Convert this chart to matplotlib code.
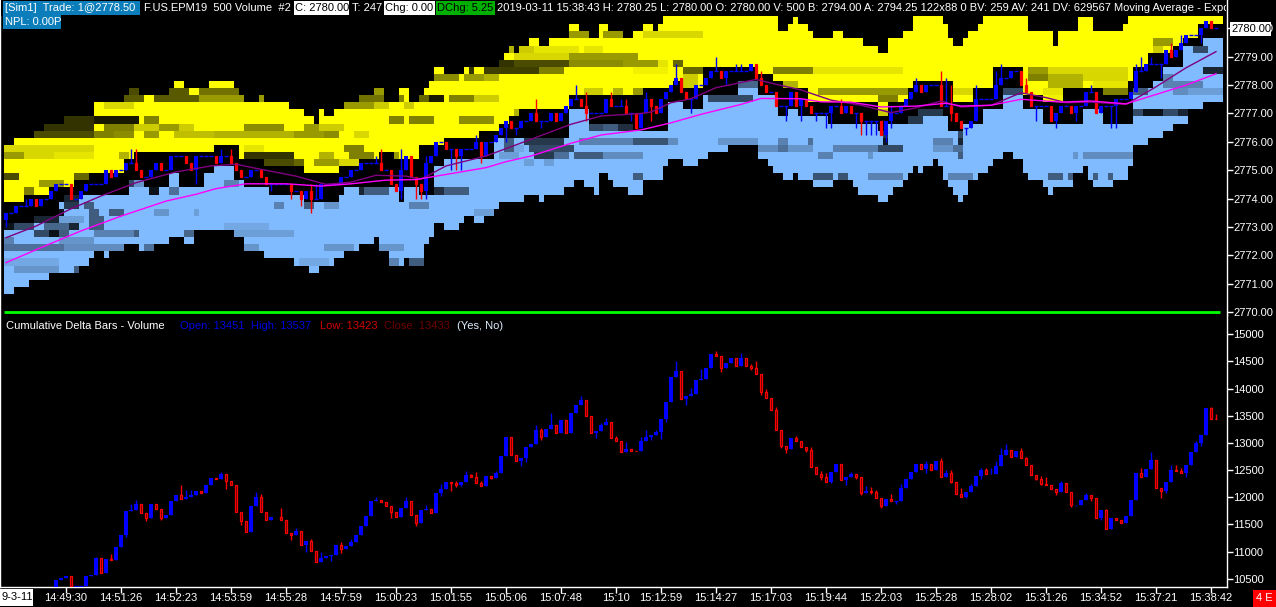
import matplotlib
matplotlib.use("Agg")
import matplotlib.pyplot as plt
import numpy as np
from matplotlib.patches import Rectangle
from matplotlib.transforms import IdentityTransform, Bbox

W, H = 1276, 607
FS = 8.0
BAR_PX, BAR0_PX = 5.0, 66.0
plt.rcParams['font.family'] = ['Liberation Sans', 'DejaVu Sans']

# ---------- time axis ----------
time_labels = ["14:49:30","14:51:26","14:52:23","14:53:59","14:55:28","14:57:59","15:00:23","15:01:55",
               "15:05:06","15:07:48","15:10","15:12:59","15:14:27","15:17:03","15:19:44","15:22:03",
               "15:25:28","15:28:02","15:31:26","15:34:52","15:37:21","15:38:42"]
time_ticks = [0,11,22,33,44,55,66,77,88,99,110,119,130,141,152,163,174,185,196,207,218,229]
price_ticks = [2770,2771,2772,2773,2774,2775,2776,2777,2778,2779,2780]
delta_ticks = [10500,11000,11500,12000,12500,13000,13500,14000,14500,15000]

# ---------- price candles (closes, last bar = 230) ----------
px_close = [2773.5,2773.5,2773.75,2773.75,2773.75,2774,2773.75,2774,2774,2774.25,2774.5,2774.5,2774.5,2774,2774,
 2774.25,2774.5,2774.5,2774.5,2774.5,2775,2774.75,2775,2775,2775.25,2775.25,2775,2774.75,2774.75,2775,2775.25,2775,2775,
 2775.5,2775.5,2775.5,2775.25,2775,2775.5,2775.5,2775.5,2775.5,2775.25,2775.5,2775.5,2775.25,2775,2774.75,2774.75,2775,2775,
 2774.75,2774.5,2774.5,2774.5,2774.5,2774.5,2774.25,2774.25,2774,2774.25,2774,2774,2774.5,2774.5,2774.5,2774.5,2774.75,2774.75,
 2775,2775,2775.25,2775.25,2775.25,2775.25,2775,2775,2774.5,2774.25,2775,2775.5,2774.75,2774.5,2774.25,2775.25,2775.5,2776,2776,
 2775.75,2775.75,2775.5,2775.75,2775.75,2775.75,2776,2775.5,2776,2776,2776.25,2776.5,2776.75,2776.5,2776.5,2776.75,2776.75,2777,
 2776.75,2776.75,2776.75,2777,2776.75,2777,2777.25,2777.5,2777.5,2777.25,2777,2777,2777,2777,2777.5,2777.25,2777.25,2777.25,2777,2777,2776.5,
 2777,2777.5,2777.25,2777,2777.5,2777.75,2778,2778.25,2777.75,2777.5,2777.5,2778,2778,2778.25,2778.5,2778.5,2778.25,2778.5,2778.5,2778.5,
 2778.5,2778.5,2778.75,2778.25,2778,2777.75,2777.75,2777.25,2777.25,2777.25,2777.75,2777.25,2777.5,2777.25,2777,2777,2777,2777,2777.25,2777.25,
 2777,2777.25,2777,2777,2776.75,2776.75,2776.75,2776.75,2776.25,2776.75,2777,2777,2777.25,2777.5,2777.75,2778,2777.75,2778,2778,2778,2777.25,
 2777.25,2777,2776.75,2776.5,2776.5,2776.75,2777.5,2777.5,2777.5,2777.5,2778,2778.25,2778.25,2778.5,2778.5,2778,2777.75,2777.25,2777.25,2777.25,
 2777.25,2776.75,2777,2777.25,2777.25,2777,2777.25,2777.25,2777.75,2777.75,2777,2777.25,2777.25,2777.25,2777.5,2777.5,2777.5,2777.75,2778.5,2778.5,
 2778.75,2778.75,2778.75,2778.75,2779.25,2779,2779.25,2779.5,2779.75,2779.75,2779.75,2780,2780.25,2780,2780]
px_high = {-10:2773.75,-8:2774,13:2775.75,14:2775.75,31:2775.75,33:2775.75,49:2774.5,50:2774.5,62:2775.5,64:2775.75,68:2775.75,
 73:2775.5,83:2776.25,95:2777.5,103:2778,105:2777.75,110:2777.75,112:2777.5,113:2777.5,117:2777.75,123:2778.75,131:2779,135:2778.75,
 136:2778.75,140:2778.5,156:2777.5,166:2777.25,171:2778.25,176:2778.5,177:2778.25,179:2778,184:2778,188:2778.5,189:2778.75,194:2778.25,
 207:2778,216:2778.75,217:2779,219:2779,223:2779.5,225:2779.75}
px_low = {-12:2773,26:2774.5,41:2774.25,45:2774,47:2773.75,49:2773.5,68:2774,71:2774,72:2774,73:2774,78:2775,79:2775,80:2775,84:2775.25,
 89:2776,91:2776.25,96:2776.5,105:2776.75,114:2776.75,118:2776.75,126:2777,133:2778,145:2776.75,148:2776.75,151:2776.75,153:2776.5,154:2776.5,
 159:2776.5,160:2776.25,161:2776.25,162:2776.25,163:2776.25,165:2776,166:2776.5,179:2776.75,182:2776.25,196:2776.75,200:2776.5,204:2776.75,
 211:2776.5,212:2776.5,221:2778.25,229:2779.5}

# ---------- moving averages ----------
slow_bars = [-12,-5,3,11,20,26,30,36,44,51,57,65,71,77,85,89,94,102,108,116,122,128,136,140,148,152,158,164,171,177,181,187,193,201,207,214,220,226,232]
slow_vals = [2771.74,2772.27,2772.86,2773.38,2773.91,2774.15,2774.35,2774.52,2774.52,2774.44,2774.52,2774.65,2774.67,2774.85,2775.09,2775.30,2775.50,2775.95,2776.24,2776.42,
 2776.67,2776.97,2777.32,2777.53,2777.52,2777.41,2777.40,2777.23,2777.26,2777.36,2777.26,2777.29,2777.50,2777.40,2777.44,2777.34,2777.67,2778.00,2778.40]
fast_bars = [-12,-6,1,7,14,22,29,34,39,46,52,57,63,69,72,77,85,94,102,108,116,118,122,126,131,139,143,148,154,160,166,171,176,181,187,193,198,202,207,214,220,226,232]
fast_vals = [2772.62,2773.03,2773.64,2774.09,2774.56,2774.94,2775.15,2775.21,2775.03,2774.79,2774.50,2774.58,2774.82,2774.79,2774.68,2775.15,2775.50,2776.09,2776.62,2776.91,2777.00,
 2777.05,2777.38,2777.52,2777.91,2778.20,2778.03,2777.83,2777.47,2777.29,2777.03,2777.20,2777.44,2777.23,2777.29,2777.73,2777.56,2777.38,2777.40,2777.32,2777.94,2778.61,2779.18]

# ---------- order-book heatmap envelopes: (first column, price) runs ----------
yt_cols = [-12,-10,-6,-4,0,6,12,13,15,21,22,24,29,34,35,36,39,40,45,48,50,51,52,54,56,59,62,65,68,70,72,73,74,75,77,81,88,89,90,91,92,94,96,98,102,104,106,108,110,113,115,117,119,120,121,144,146,147,148,150,151,155,157,161,164,166,169,171,177,179,180,182,183,185,186,195,200,201,205,208,214,215]
yt_vals = [2775.75,2776,2776.25,2776.5,2776.75,2777.25,2777.5,2777.75,2777.5,2777.75,2778,2777.75,2778,2777.75,2777.5,2777.25,2777.5,2777.25,2777,2776.75,2776.5,2777,2776.75,2777,2777.25,2777.5,2777.75,2777.25,2777.75,2777.25,2777.5,2777.75,2778,2778.5,2778.25,2778.5,2778.75,2779,2779.25,2779,2779.25,2779.5,2779.25,2779.5,2780,2779.75,2779.5,2780,2779.75,2779.5,2779.75,2780,2779.75,2780,2780.5,2779.75,2780,2780.25,2780,2779.75,2779.5,2779.75,2779.5,2779.25,2779,2779.5,2779.75,2780.5,2780,2779.5,2779.25,2779.5,2779.75,2780,2780.5,2779.75,2779.25,2779.75,2780.25,2779.75,2780,2780.5]
yb_cols = [-12,-8,-3,2,5,12,14,30,35,40,48,55,59,64,67,72,77,84,88,90,92,102,117,123,125,129,140,143,145,150,164,166,170,171,180,184,188,194,198,202,210,215,216,219,224,226,229]
yb_vals = [2774,2774.25,2774.5,2774.75,2775,2775.5,2775.75,2776,2775.5,2775.25,2775,2775.25,2775.5,2775.75,2775.5,2776,2776.25,2776.5,2776.75,2777,2777.25,2777.75,2778,2778.25,2778,2778.75,2778.5,2778.25,2778,2777.5,2777,2777.5,2778,2778.25,2777.5,2778,2778.75,2777.75,2777.5,2778,2777.75,2778.25,2778.75,2779.25,2779.5,2779.75,2780.25]
bt_cols = [-12,-6,-1,0,13,16,21,23,28,30,34,36,41,48,55,56,68,69,72,75,77,87,102,106,115,122,125,129,136,140,144,146,148,154,164,166,170,172,177,179,182,186,190,194,198,206,210,216,220,222,226,230]
bt_vals = [2773,2773.25,2773.75,2774,2774.5,2774.25,2774.75,2774.25,2774.75,2775,2774.5,2774.25,2774,2773.75,2774,2774.25,2773.75,2774.25,2774,2775,2775.25,2776,2777,2776.5,2776.25,2777.25,2777,2777.5,2778,2777.5,2776.75,2777,2776.75,2776.5,2776.25,2776.5,2776.75,2777,2776.75,2776.25,2776.5,2777,2777.75,2777,2776.5,2777,2776.5,2777.75,2778,2778.5,2779.25,2779.5]
bb_cols = [-12,-10,-7,-3,3,5,6,8,9,12,15,18,21,24,26,34,36,40,46,49,51,54,56,59,62,64,66,69,70,73,74,75,77,80,81,83,85,87,88,93,96,97,101,103,105,107,108,110,111,114,117,121,122,125,128,130,134,140,142,143,145,147,148,151,155,159,160,164,166,167,169,170,171,172,173,175,176,177,179,180,181,182,183,185,187,188,190,192,194,195,198,199,200,204,206,207,208,212,215,216,219,222,224,227,230]
bb_vals = [2770.75,2771,2771.25,2771.5,2771.75,2772,2772.25,2772,2772.25,2772.5,2772.25,2772.5,2772.75,2772.5,2773,2772.75,2772.25,2772,2771.75,2771.5,2771.75,2772,2772.25,2772.5,2772.75,2772.25,2771.75,2772,2771.75,2772.5,2772.75,2773.25,2773,2773.25,2773.5,2773.25,2773.5,2773.75,2774,2774.25,2774,2774.25,2774.5,2774.75,2774.5,2774.25,2775,2774.75,2774.5,2774.25,2774.75,2775.25,2775.5,2775.25,2775.5,2775.75,2776,2775.5,2775.25,2775,2774.75,2775,2774.75,2774.5,2774.75,2774.5,2774.25,2774,2774.25,2774.5,2774.75,2775,2775.25,2775,2775.25,2775.5,2775.25,2774.75,2774.5,2774.25,2774,2774.25,2774.75,2775,2775.25,2775.5,2775.75,2775.5,2775,2774.75,2774.5,2774.25,2774.5,2775,2775.25,2774.75,2774.5,2774.75,2775.25,2776,2776.25,2776.5,2776.75,2777.25,2777.5]

# dim cells: price -> (first col, end col, brightness)
yellow_dim = {
 2780:[], 2779.75:[(102,107,.6),(109,113,.6),(117,129,.85)], 2779.5:[(220,224,.6)],
 2779.25:[(90,91,.7),(92,95,.8),(95,104,.9),(105,109,.9),(220,222,.8)],
 2779:[(91,102,.85),(102,116,.6)],
 2778.75:[(88,91,.2),(91,102,.3),(102,113,.55),(113,120,.6),(120,122,.9),(123,125,.4)],
 2778.5:[(82,83,.2),(85,96,.25),(96,101,.5),(115,122,.95),(125,130,.4),(143,151,.5),(151,169,.9),(190,193,.3),(195,199,.6),(199,215,.85)],
 2778.25:[(75,80,.55),(81,85,.6),(85,88,.7),(125,128,.8),(195,199,.5),(199,206,.7),(206,215,.85)],
 2778:[(125,128,.8),(145,148,.7),(199,206,.7),(208,215,.9)],
 2777.75:[(13,15,.3),(21,25,.35),(27,35,.45),(62,65,.6),(105,109,.8),(111,113,.7),(115,117,.6),(152,171,.6),(180,184,.85),(198,202,.9),(210,215,.5)],
 2777.5:[(12,16,.35),(18,27,.35),(27,36,.6),(39,40,.6),(59,65,.45),(68,69,.5),(72,74,.4),(74,77,.1),(78,83,.5),(83,88,.8),(164,168,.5),(199,202,.95)],
 2777.25:[(8,14,.85),(56,62,.6),(62,66,.8),(69,71,.8)],
 2777:[(91,92,.7),(164,166,.8)],
 2776.75:[(0,6,.2),(6,15,.1),(16,19,.5),(66,69,.5),(70,75,.5),(80,87,.55)],
 2776.5:[(-4,6,.2),(8,14,.5),(14,19,.8),(19,23,.6),(23,26,.8),(36,44,.55),(48,51,.6),(51,56,.8)],
 2776.25:[(-6,6,.3),(6,10,.5),(10,14,.55),(16,19,.6),(22,30,.75),(30,46,.7),(46,52,.6),(52,55,.55),(58,61,.85)],
 2775.75:[(-12,6,.85),(36,40,.9),(56,60,.5)],
 2775.5:[(-12,-8,.6),(-8,-2,.85),(-2,6,.9),(11,13,.7),(15,21,.5),(36,46,.2),(51,54,.7),(57,62,.5),(65,68,.6)],
 2775.25:[(40,46,.3),(46,48,.4),(50,55,.6),(55,59,.85)],
 2774.75:[(-12,-9,.3),(2,5,.4)], 2774.5:[(-5,0,.6)], 2774.25:[(-8,-6,.5)]}
blue_dim = {
 2779.25:[(228,231,.4)], 2778.5:[(230,234,.2)], 2778.25:[(219,224,.7)],
 2778:[(136,140,.55),(216,218,.5),(222,230,.7)],
 2777.75:[(123,125,.5),(130,135,.3),(189,194,.4),(216,219,.5),(224,227,.75),(227,234,.85)],
 2777.5:[(130,139,.4)],
 2777:[(170,177,.3),(216,218,.4),(218,222,.1),(222,225,.4),(225,227,.2)],
 2776.75:[(170,173,.3)], 2776.5:[(106,109,.4),(109,112,.5),(112,116,.25),(165,166,.1)],
 2776.25:[(165,166,.3),(181,182,.4)],
 2776:[(89,91,.5),(93,101,.3),(104,116,.7),(115,122,.45),(122,124,.75),(132,140,.8),(144,146,.7),(150,151,.6),(165,166,.1),(175,180,.7),(181,182,.2)],
 2775.75:[(89,91,.5),(91,93,.9),(94,103,.4),(140,144,.75),(144,146,.6),(146,151,.8),(155,164,.7),(164,169,.4),(175,180,.8),(180,182,.6)],
 2775.5:[(88,92,.85),(95,99,.3),(99,102,.6),(103,109,.5),(109,117,.75),(152,155,.7),(162,163,.8),(181,182,.5),(204,205,.8),(206,216,.75)],
 2775.25:[(93,95,.85),(97,99,.85)],
 2774.75:[(115,117,.5),(151,155,.45),(156,158,.45),(162,169,.7),(179,184,.7),(199,202,.5),(203,205,.5),(208,209,.5),(211,212,.5)],
 2774.5:[(12,14,.4),(14,16,.8),(18,21,.25),(23,26,.1),(32,35,.7)],
 2774.25:[(17,19,.1),(21,23,.6),(59,60,.2),(60,66,.5),(74,77,.25),(77,82,.5)],
 2774:[(0,3,.2),(68,69,.4)],
 2773.75:[(0,3,.3),(4,6,.5),(42,44,.7),(48,50,.5),(52,55,.8),(70,74,.7)],
 2773.5:[(-4,0,.1),(5,7,.5),(9,12,.5),(18,21,.8),(26,27,.85),(83,87,.85)],
 2773.25:[(-6,-1,.2),(-1,4,.85),(5,8,.5)],
 2773:[(-12,-10,.1),(-10,-6,.4),(-4,1,.55),(1,3,.2),(5,8,.5),(32,41,.9)],
 2772.75:[(-6,-3,.4),(-3,-1,.1),(-1,1,.5),(6,14,.7),(14,15,.5),(24,29,.55),(34,46,.85)],
 2772.5:[(-12,-10,.7),(-1,6,.8)],
 2772.25:[(-12,0,.6),(0,12,.75),(16,18,.6),(36,39,.8),(52,58,.8),(64,69,.8)],
 2771.75:[(-12,-1,.9),(47,53,.9),(66,68,.7),(70,73,.5)],
 2771.5:[(-10,-1,.8),(2,4,.5)]}

# ---------- cumulative delta (closes, last bar = 230) ----------
cd_close = [10475,10518,10555,10371,10371,10371,10555,10567,10874,10598,10856,10843,11077,11304,11746,11764,11875,11703,11623,11875,11777,11623,11672,11930,
 12041,11961,12010,12041,12120,12084,12225,12360,12335,12427,12305,12225,11734,11568,11365,11838,12010,11734,11580,11636,11642,11580,11347,11304,11384,
 11120,11194,11015,10813,10874,10923,10929,11114,11040,11101,11181,11298,11476,11654,11924,11949,11906,11844,11728,11636,11795,11930,11672,11531,11764,
 11777,11715,12071,12151,12280,12268,12225,12274,12409,12378,12268,12213,12384,12360,12452,12759,13103,12783,12673,12728,12919,12980,13238,13115,13250,
 13324,13176,13422,13189,13545,13698,13790,13502,13189,13225,13330,13379,13097,13041,12839,12882,12857,12851,
 13029,13115,13146,13195,13434,13760,14208,14324,13809,13858,13901,14159,14177,14374,14637,14607,14380,14466,14564,14410,14564,14423,14380,14275,13931,
 13833,13612,13244,12949,12888,13090,13029,12925,12869,12562,12434,12378,12286,12458,12612,12317,12372,12427,12378,12084,12108,12096,11992,11838,11973,
 11936,11936,12170,12329,12464,12618,12520,12618,12501,12667,12372,12446,12286,12059,12010,12102,12207,12397,12501,12421,12434,12575,12783,12869,12747,
 12845,12728,12599,12415,12329,12243,12231,12151,12102,12268,12090,11856,11863,11949,12041,11992,11623,11764,11421,11611,11574,11519,11654,11949,12440,
 12378,12513,12685,12170,12120,12280,12501,12483,12440,12593,12839,13004,13146,13643,13446,13434]
cd_high = {6:10900,9:10950,13:11874,14:11949,23:12225,24:12133,25:12133,31:12464,38:12090,39:12053,43:11795,46:11440,49:11240,51:11000,55:11181,57:11240,
 63:12000,69:12000,73:11850,76:12250,79:12290,81:12480,82:12430,83:12460,84:12290,87:12480,91:12740,95:13330,96:13270,98:13560,104:13864,108:13370,109:13460,
 111:13120,113:13010,116:13100,117:13240,119:13230,123:14509,126:14020,128:14360,131:14700,136:14660,138:14450,139:14500,141:14000,143:13670,147:13120,148:13040,
 150:12920,152:12490,153:12450,157:12360,158:12470,161:12210,162:12180,163:12130,166:12060,168:12240,173:12670,176:12730,178:12500,179:12510,181:12170,183:12240,
 185:12540,186:12530,187:12530,188:12660,189:12900,190:12980,193:12910,194:12740,197:12390,198:12370,201:12290,206:12080,210:11780,212:11620,217:12530,219:12830,
 223:12590,224:12590,225:12540,228:13040,231:13660,232:13530}
cd_low = {12:11270,16:11560,19:11590,32:12151,35:11480,45:11220,48:10985,53:10820,55:10975,58:11170,66:11620,71:11470,72:11610,76:12020,78:12120,79:12180,80:12200,
 86:12330,92:12580,93:12650,96:13050,107:13090,118:13060,120:13080,121:13390,125:13690,132:14310,138:14340,140:13880,144:12900,145:12820,149:12830,152:12310,153:12290,
 154:12260,157:12230,159:12340,160:12040,162:12060,164:11800,167:11880,173:12450,179:12270,181:12010,182:11990,185:12330,196:12320,197:12230,200:12040,203:11820,204:11840,
 207:11930,209:11590,221:11990,222:12080,226:12370,229:12940}

BLUE, RED = '#0000ff', '#ff0000'

def calibrate(c):
    """Column keys above were read against crops at 12.15 units per bar; the true pitch is 12.25."""
    return int(round(c * 0.992)) if c < 115 else int(round(114 + (c - 115) * 0.992))

def px(x0, y0, x1, y1):
    return [x0 / W, 1 - y1 / H, (x1 - x0) / W, (y1 - y0) / H]

def runs(col_list, vals, grid):
    keys = [calibrate(c) for c in col_list]
    return np.array(vals, float)[np.searchsorted(keys, grid, side='right') - 1]

def candles(ax, bars, opens, closes, highs, lows, red_fill):
    highs = {calibrate(k): v for k, v in highs.items()}
    lows = {calibrate(k): v for k, v in lows.items()}
    for b, o, c in zip(bars, opens, closes):
        up = c >= o
        col = BLUE if up else RED
        hi = max(highs.get(b, max(o, c)), o, c)
        lo = min(lows.get(b, min(o, c)), o, c)
        if hi > lo:
            ax.vlines(b, lo, hi, color=col, lw=1, zorder=4)
        if c == o:
            ax.hlines(c, b - .35, b + .35, color=col, lw=1, zorder=5)
        elif up:
            ax.bar(b, c - o, bottom=o, width=0.66, color=col, linewidth=0, zorder=5)
        else:
            ax.bar(b, o - c, bottom=c, width=0.5, facecolor=red_fill, edgecolor=col, linewidth=0.9, zorder=5)

fig = plt.figure(figsize=(W / 100, H / 100), dpi=100, facecolor='black')
ax1 = fig.add_axes(px(0, 0, 1226.5, 315), facecolor='black')
ax2 = fig.add_axes(px(0, 315, 1226.5, 587), facecolor='black')
xlim = ((0 - BAR0_PX) / BAR_PX, (1226.5 - BAR0_PX) / BAR_PX)

# ---------- heatmap ----------
cols = np.arange(-12, 232)
rows = np.arange(2770.5, 2780.75, 0.25)
ytop, ybot = runs(yt_cols, yt_vals, cols), runs(yb_cols, yb_vals, cols)
btop, bbot = runs(bt_cols, bt_vals, cols), runs(bb_cols, bb_vals, cols)
ygrid = np.zeros((len(rows), len(cols)))
bgrid = np.zeros((len(rows), len(cols)))
for j in range(len(cols)):
    ygrid[(rows <= ytop[j]) & (rows >= ybot[j]), j] = 1
    bgrid[(rows <= btop[j]) & (rows >= bbot[j]), j] = 1
def dim(grid, table):
    for price, spans in table.items():
        i = int(round((price - rows[0]) / 0.25))
        for c0, c1, lv in spans:
            mask = (cols >= calibrate(c0)) & (cols < calibrate(c1))
            grid[i, mask] = np.where(grid[i, mask] > 0, lv, 0)
dim(ygrid, yellow_dim)
dim(bgrid, blue_dim)
rgb = np.zeros(ygrid.shape + (3,))
rgb += ygrid[..., None] * np.array([1, 1, 0])
only_blue = ygrid == 0
rgb[only_blue] += (bgrid[..., None] * np.array([128, 187, 255]) / 255)[only_blue]
ax1.imshow(np.clip(rgb, 0, 1), origin='lower', aspect='auto', interpolation='nearest',
           extent=(cols[0] - .5, cols[-1] + .3, rows[0] - .125, rows[-1] + .125), zorder=1)

# ---------- price pane ----------
bars_px = np.arange(230 - len(px_close) + 1, 231)
opens_px = [px_close[0] - 0.25] + px_close[:-1]
candles(ax1, bars_px, opens_px, px_close, px_high, px_low, RED)
ax1.plot([calibrate(b) for b in fast_bars], fast_vals, color='#800080', lw=1, zorder=6)
ax1.plot([calibrate(b) for b in slow_bars], slow_vals, color='#ff00ff', lw=1, zorder=6)
ax1.hlines(2770, (4 - BAR0_PX) / BAR_PX, (1220 - BAR0_PX) / BAR_PX, color='#00ff00', lw=2, zorder=6)
ax1.set_xlim(xlim)
ax1.set_ylim(2770 - 3 / 28.37, 2780 + 28.4 / 28.37)
ax1.set_yticks(price_ticks)
ax1.set_yticklabels([f"{v:.2f}" for v in price_ticks])
ax1.set_xticks([])

# ---------- delta pane ----------
bars_cd = np.arange(230 - len(cd_close) + 1, 231)
opens_cd = [10300] + cd_close[:-1]
candles(ax2, bars_cd, opens_cd, cd_close, cd_high, cd_low, '#500000')
ax2.set_xlim(xlim)
ax2.set_ylim(10500 - 8.3 / 0.0543, 15000 + 19.3 / 0.0543)
ax2.set_yticks(delta_ticks)
ax2.set_xticks(time_ticks)
ax2.set_xticklabels(time_labels)

for ax in (ax1, ax2):
    ax.yaxis.tick_right()
    ax.tick_params(colors='white', length=4, width=1, labelsize=FS, pad=1, direction='out')
    ax.spines['top'].set_visible(False)
    for s in ('left', 'right', 'bottom'):
        ax.spines[s].set_color('white')
        ax.spines[s].set_linewidth(1)
ax1.spines['bottom'].set_visible(False)
ax2.tick_params(axis='x', pad=0)

# ---------- overlays in pixel coordinates ----------
ident = IdentityTransform()
def box(x0, y0, x1, y1, color):
    fig.patches.append(Rectangle((x0, H - y1), x1 - x0, y1 - y0, transform=ident, facecolor=color, edgecolor='none', zorder=2, figure=fig))
def label(x, y, s, color='white', clip=None, ha='left', **kw):
    t = fig.text(x / W, 1 - y / H, s, color=color, fontsize=FS, va='center', ha=ha, zorder=3, **kw)
    if clip:
        t.set_clip_box(Bbox([[0, 0], [clip, H]]))
        t.set_clip_on(True)
    return t

box(1, 0, 1226, 15.5, 'black')
box(3, 1, 140, 15, '#0A7DBA')
box(3, 15, 61, 29, '#0A7DBA')
label(5, 8, "[Sim1]  Trade: 1@2778.50")
label(5, 22, "NPL: 0.00P")
label(144, 8, "F.US.EPM19  500 Volume  #2")
box(294, 1, 349, 15, 'white')
label(295, 8, "C: 2780.00", color='black')
label(352, 8, "T: 247")
box(384, 1, 435, 15, 'white')
label(385, 8, "Chg: 0.00", color='black')
box(436, 1, 495, 15, '#00B000')
label(437, 8, "DChg: 5.25", color='black')
label(497, 8, "2019-03-11 15:38:43 H: 2780.25 L: 2780.00 O: 2780.00 V: 500 B: 2794.00 A: 2794.25 122x88 0 BV: 259 AV: 241 DV: 629567 Moving Average - Exponential",
      clip=1226)
box(1230, 22, 1271, 36, 'white')
label(1231, 29, "2780.00", color='black')
label(6, 326, "Cumulative Delta Bars - Volume")
label(180, 326, "Open: 13451", color='#0000E0')
label(251, 326, "High: 13537", color='#0000E0')
label(320, 326, "Low: 13423", color='#D00000')
label(384, 326, "Close: 13433", color='#700000')
label(457, 326, "(Yes, No)", color='#DDEEFF')
box(0, 589, 33, 606, 'white')
label(1, 597.5, "9-3-11", color='black')
box(1253, 590, 1276, 607, '#FF0000')
label(1264.5, 598, "4 E", ha='center')

fig.savefig('out.png', dpi=100, facecolor='black')
